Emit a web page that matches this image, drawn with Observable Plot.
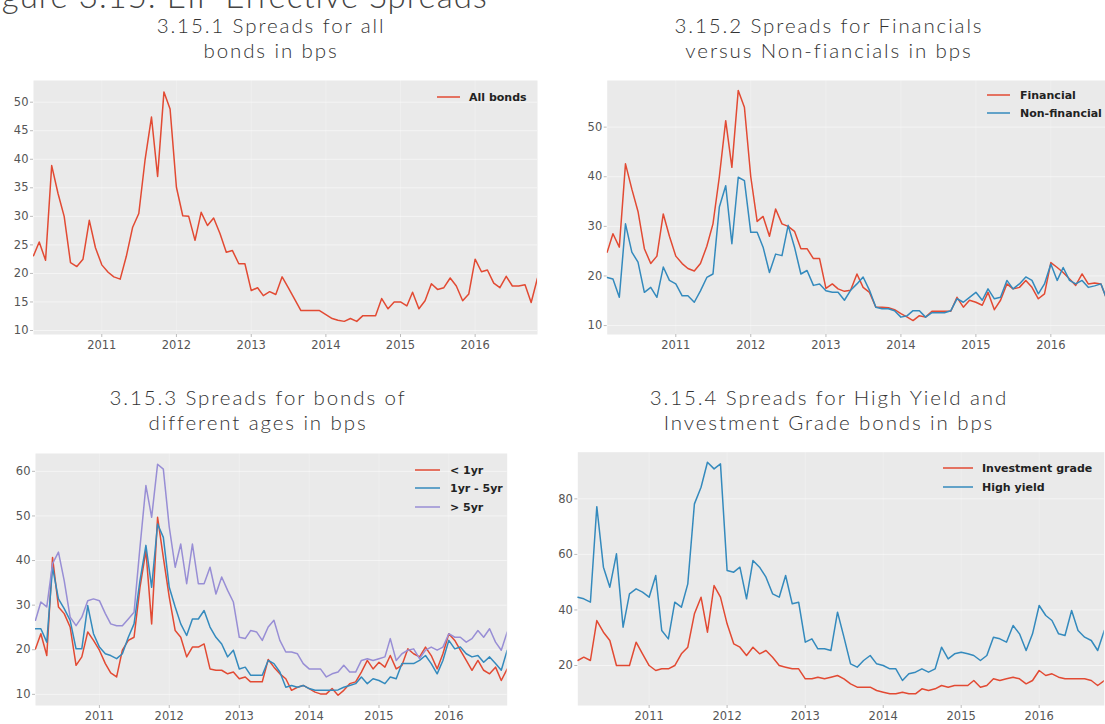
<!DOCTYPE html>
<html><head><meta charset="utf-8">
<script src="https://cdn.jsdelivr.net/npm/d3@7"></script>
<script src="https://cdn.jsdelivr.net/npm/@observablehq/plot@0.6"></script>
<style>
html,body{margin:0;padding:0;background:#fff;}
#root{position:relative;width:1105px;height:724px;overflow:hidden;background:#fff;}
.panel{position:absolute;}
#overlay{position:absolute;left:0;top:0;}
</style></head><body><div id="root"></div>
<script>
// ---- data (monthly, Feb 2010 .. Nov 2016) ----
const firstMonth = "2010-02";
const lastMonthExclusive = "2016-12";
const yearLabels = [2011, 2012, 2013, 2014, 2015, 2016];

const allBonds = [23.1,25.5,22.3,38.9,34.0,30.0,21.9,21.2,22.5,29.3,24.5,21.5,20.2,19.4,19.0,23.0,28.1,30.5,40.0,47.4,37.0,51.8,48.8,35.1,30.1,30.0,25.8,30.7,28.4,29.7,27.0,23.7,24.0,21.7,21.7,17.0,17.5,16.1,16.8,16.3,19.4,17.5,15.5,13.5,13.5,13.5,13.5,12.8,12.1,11.8,11.6,12.1,11.6,12.6,12.6,12.6,15.6,13.8,15.0,15.0,14.3,16.7,13.8,15.2,18.2,17.2,17.5,19.2,17.8,15.2,16.4,22.5,20.3,20.6,18.3,17.5,19.5,17.8,17.8,18.0,14.9,19.2];

const financial = [24.8,28.5,25.8,42.6,37.5,33.0,25.5,22.5,24.0,32.5,28.0,24.0,22.5,21.5,21.0,22.5,26.0,30.5,40.0,51.3,41.9,57.4,54.0,40.0,31.0,32.0,28.0,33.5,30.5,30.0,29.0,25.5,25.5,23.5,23.5,17.5,18.4,17.4,16.9,17.1,20.4,17.7,16.7,13.7,13.7,13.6,13.2,12.4,11.7,11.0,12.0,11.7,12.9,12.9,12.9,12.9,15.7,13.7,15.1,14.7,14.1,16.7,13.2,15.1,18.4,17.4,17.7,19.1,17.7,15.4,16.4,22.7,21.7,20.7,19.4,18.1,20.4,18.4,18.6,18.4,15.1,18.0];
const nonFinancial = [19.7,19.4,15.7,30.5,24.8,22.8,16.7,17.7,15.7,21.8,19.1,18.4,16.0,16.0,14.7,17.0,19.7,20.4,33.9,38.2,26.5,39.9,39.2,28.8,28.8,25.8,20.7,24.4,24.1,30.2,25.8,20.4,21.1,18.1,18.4,17.0,16.7,16.7,15.1,17.1,18.4,19.8,17.1,13.7,13.4,13.4,13.0,11.7,12.0,13.0,13.0,11.7,12.6,12.6,12.6,13.0,15.4,14.7,15.7,16.7,15.1,17.4,15.4,15.7,19.1,17.4,18.4,19.8,19.1,16.4,18.4,22.4,19.1,21.7,19.1,18.4,19.1,17.7,18.0,18.4,15.1,17.0];

const ageUnder1 = [20.2,23.6,18.7,40.7,29.6,28.1,25.1,16.5,18.4,24.0,22.1,19.9,16.9,14.8,13.9,19.9,22.1,22.8,34.0,42.2,25.8,49.7,40.7,31.8,24.3,22.8,18.4,20.6,20.6,21.3,15.7,15.4,15.4,14.6,15.0,13.5,13.9,12.8,12.8,12.8,17.8,16.1,14.6,13.5,10.9,11.6,12.0,11.3,10.5,10.1,10.1,11.3,9.8,10.9,12.4,12.8,15.0,17.6,15.7,17.2,16.1,18.7,15.7,16.5,20.2,19.1,18.4,20.6,18.7,15.7,19.1,23.6,22.1,19.9,17.6,15.4,17.6,15.4,14.6,16.1,13.1,15.7];
const age1to5 = [24.7,24.7,21.7,38.5,31.4,29.2,26.6,20.2,20.2,29.9,23.6,20.6,19.1,18.7,18.0,19.1,22.8,25.8,35.5,43.4,34.0,48.2,45.2,34.0,29.6,25.8,23.2,26.9,26.9,28.8,25.1,22.8,21.3,18.4,19.9,15.7,16.1,14.3,14.3,14.3,17.6,16.9,15.0,11.6,12.0,11.6,12.0,11.3,10.9,10.9,10.9,10.9,11.0,11.6,12.0,12.4,13.9,12.4,13.5,13.1,12.4,13.9,13.5,16.9,16.9,16.9,17.6,18.7,16.9,14.6,17.6,22.1,20.2,20.6,19.1,18.4,18.7,17.2,18.4,16.9,15.4,19.9];
const ageOver5 = [26.6,30.7,29.6,39.3,41.9,35.5,27.3,25.4,27.3,31.0,31.4,31.0,28.1,25.8,25.4,25.4,26.9,28.4,43.0,56.8,49.7,61.6,60.5,47.5,38.5,43.7,34.8,43.7,34.8,34.8,38.5,32.5,36.3,33.3,30.7,22.8,22.5,24.3,24.0,22.1,25.1,26.6,22.1,19.5,19.5,19.1,16.9,15.7,15.7,15.7,13.9,14.6,15.0,16.5,15.0,15.0,17.6,18.0,17.6,18.0,18.4,22.5,17.6,19.1,19.9,20.2,18.0,19.9,20.6,19.9,20.6,23.6,22.8,22.8,21.7,22.5,24.3,22.8,24.7,21.7,19.9,24.0];

const investmentGrade = [21.8,23.0,21.8,36.2,32.0,29.0,20.0,20.0,20.0,28.4,24.2,20.0,18.2,18.8,18.8,20.0,24.2,26.6,38.6,44.6,32.0,48.8,44.6,35.0,27.8,26.6,23.6,26.6,24.2,25.4,23.0,20.0,19.4,18.8,18.8,15.2,15.2,15.8,15.2,15.8,16.4,15.2,13.4,12.2,12.2,12.2,11.0,10.4,9.8,9.8,10.4,9.8,9.8,11.6,11.0,11.6,12.8,12.2,12.8,12.8,12.8,14.6,12.2,12.8,15.2,14.6,15.2,15.8,15.2,13.4,14.6,18.2,16.4,17.0,15.8,15.2,15.2,15.2,15.2,14.6,12.8,14.6];
const highYield = [44.6,44.0,42.8,77.2,55.4,48.2,60.2,33.8,45.8,47.6,46.4,44.6,52.4,32.6,29.6,42.8,41.0,49.4,78.2,84.2,93.2,90.8,92.6,54.2,53.6,55.4,44.0,57.8,55.4,51.8,45.8,44.6,52.4,42.2,42.8,28.4,29.6,26.0,26.0,25.4,39.2,30.2,20.6,19.4,21.8,23.6,20.6,20.0,18.8,18.8,14.6,17.0,17.6,18.8,17.6,18.8,26.6,22.4,24.2,24.8,24.2,23.6,21.8,23.6,30.2,29.6,28.4,34.4,31.4,25.4,31.4,41.6,38.0,36.2,31.4,30.8,39.8,32.6,30.2,29.0,25.4,32.6];

const titles = {
  main: "Figure 3.15: EIF Effective Spreads",
  p1: ["3.15.1 Spreads for all", "bonds in bps"],
  p2: ["3.15.2 Spreads for Financials", "versus Non-fiancials in bps"],
  p3: ["3.15.3 Spreads for bonds of", "different ages in bps"],
  p4: ["3.15.4 Spreads for High Yield and", "Investment Grade bonds in bps"]
};

// ---- styling ----
const RED = "#E24A33", BLUE = "#348ABD", PURPLE = "#988ED5";
const BG = "#EAEAEA";

const months = d3.utcMonth.range(new Date(firstMonth + "-01T00:00Z"), new Date(lastMonthExclusive + "-01T00:00Z"));
const yearTicks = yearLabels.map(y => new Date(Date.UTC(y, 0, 1)));
const root = document.getElementById("root");

function makePanel(cfg) {
  const marks = [
    Plot.frame({fill: BG, stroke: null}),
    Plot.gridY(cfg.yTicks, {stroke: "#fff", strokeOpacity: 0.5, strokeWidth: 1}),
    Plot.gridX(yearTicks, {stroke: "#fff", strokeOpacity: 0.25, strokeWidth: 1}),
  ];
  for (const s of cfg.series) {
    const data = months.map((d, i) => ({date: d, value: s.values[i]}));
    marks.push(Plot.line(data, {x: "date", y: "value", stroke: s.color, strokeWidth: 1.5, clip: true}));
  }
  marks.push(Plot.axisX(yearTicks, {tickFormat: d3.utcFormat("%Y"), tickSize: 3, tickPadding: 3, fontSize: 11.5, stroke: "#bbb", fill: "#555", label: null}));
  marks.push(Plot.axisY(cfg.yTicks, {tickSize: 3, tickPadding: 2, fontSize: 11.5, stroke: "#bbb", fill: "#555", label: null}));
  const chart = Plot.plot({
    width: cfg.width, height: cfg.height,
    marginLeft: cfg.ml, marginRight: cfg.mr, marginTop: cfg.mt, marginBottom: cfg.mb,
    x: {type: "utc", domain: [months[0], months[months.length - 1]]},
    y: {domain: cfg.yDomain},
    style: {fontFamily: "'DejaVu Sans', sans-serif", fontSize: "11.5px", color: "#555", background: "transparent", overflow: "visible"},
    marks
  });
  chart.classList.add("panel");
  chart.style.left = cfg.left + "px";
  chart.style.top = cfg.top + "px";
  root.appendChild(chart);
}

makePanel({left: 0, top: 70, width: 545, height: 290, ml: 33, mr: 8, mt: 10, mb: 26,
  yDomain: [9.3, 53.8], yTicks: [10, 15, 20, 25, 30, 35, 40, 45, 50],
  series: [{values: allBonds, color: RED}]});
makePanel({left: 550, top: 70, width: 570, height: 290, ml: 56.7, mr: 7, mt: 10, mb: 26,
  yDomain: [8.2, 59.4], yTicks: [10, 20, 30, 40, 50],
  series: [{values: financial, color: RED}, {values: nonFinancial, color: BLUE}]});
makePanel({left: 0, top: 440, width: 515, height: 284, ml: 35, mr: 8.3, mt: 13, mb: 19,
  yDomain: [7.5, 64.0], yTicks: [10, 20, 30, 40, 50, 60],
  series: [{values: ageUnder1, color: RED}, {values: age1to5, color: BLUE}, {values: ageOver5, color: PURPLE}]});
makePanel({left: 540, top: 440, width: 570, height: 284, ml: 37.3, mr: 6.2, mt: 11.7, mb: 19,
  yDomain: [5.6, 96.8], yTicks: [20, 40, 60, 80],
  series: [{values: investmentGrade, color: RED}, {values: highYield, color: BLUE}]});

// ---- overlay: titles and legends (real text) ----
const ns = "http://www.w3.org/2000/svg";
const ov = document.createElementNS(ns, "svg");
ov.setAttribute("id", "overlay");
ov.setAttribute("width", 1105); ov.setAttribute("height", 724);
root.appendChild(ov);
function txt(x, y, s, opts) {
  const t = document.createElementNS(ns, "text");
  t.setAttribute("x", x); t.setAttribute("y", y);
  t.setAttribute("font-family", opts.family || "Lato, 'Open Sans', sans-serif");
  t.setAttribute("font-size", opts.size);
  t.setAttribute("font-weight", opts.weight || "normal");
  t.setAttribute("fill", opts.fill || "#333");
  if (opts.anchor) t.setAttribute("text-anchor", opts.anchor);
  if (opts.ls) t.setAttribute("letter-spacing", opts.ls);
  t.textContent = s;
  ov.appendChild(t);
}
function seg(x1, x2, y, color) {
  const l = document.createElementNS(ns, "line");
  l.setAttribute("x1", x1); l.setAttribute("x2", x2);
  l.setAttribute("y1", y); l.setAttribute("y2", y);
  l.setAttribute("stroke", color); l.setAttribute("stroke-width", 1.5);
  ov.appendChild(l);
}
const subOpts = {size: 20.5, weight: 300, fill: "#333", anchor: "middle", ls: "1.9"};
txt(-26, 8, titles.main, {size: 33, weight: 300, fill: "#444", ls: "1.0"});
txt(271, 33, titles.p1[0], subOpts); txt(271, 58, titles.p1[1], subOpts);
txt(829, 33, titles.p2[0], subOpts); txt(829, 58, titles.p2[1], subOpts);
txt(258, 405, titles.p3[0], subOpts); txt(258, 430, titles.p3[1], subOpts);
txt(829, 405, titles.p4[0], subOpts); txt(829, 430, titles.p4[1], subOpts);

const legOpts = {size: 11, weight: "bold", fill: "#222", family: "'DejaVu Sans', sans-serif"};
seg(437, 460, 97, RED); txt(469, 101, "All bonds", legOpts);
seg(987, 1010, 95, RED); txt(1020, 99, "Financial", legOpts);
seg(987, 1010, 113, BLUE); txt(1020, 117, "Non-financial", legOpts);
seg(415, 440, 470, RED); txt(450, 474, "< 1yr", legOpts);
seg(415, 440, 488, BLUE); txt(450, 492, "1yr - 5yr", legOpts);
seg(415, 440, 507, PURPLE); txt(450, 511, "> 5yr", legOpts);
seg(943, 973, 468, RED); txt(982, 472, "Investment grade", legOpts);
seg(943, 973, 487, BLUE); txt(982, 491, "High yield", legOpts);
</script></body></html>
